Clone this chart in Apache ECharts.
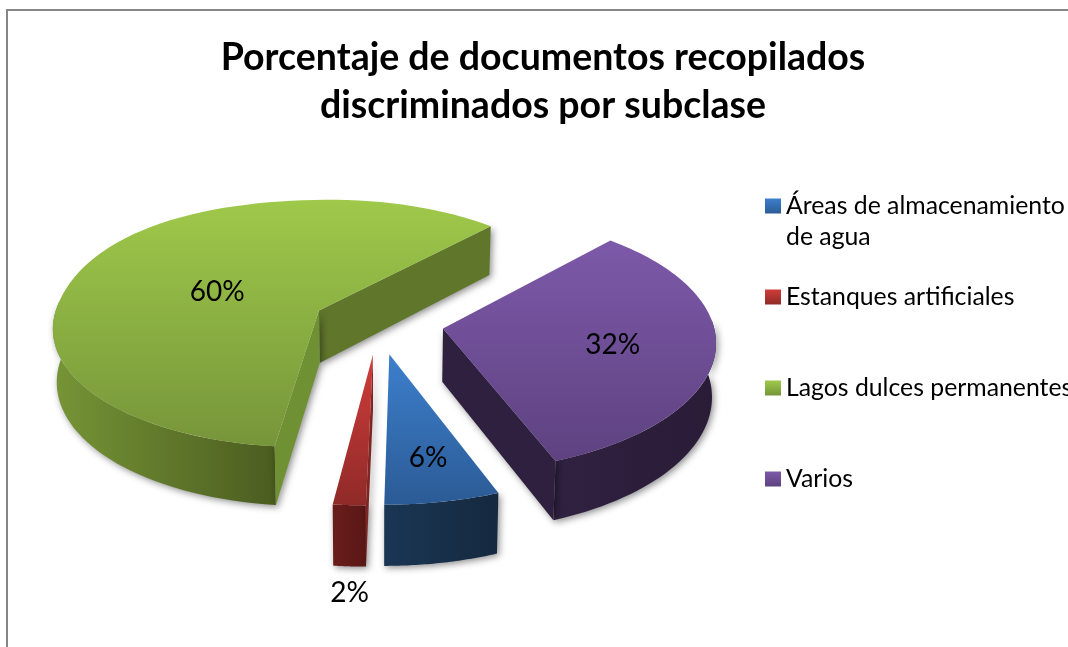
<!DOCTYPE html>
<html><head><meta charset="utf-8">
<style>html,body{margin:0;padding:0;background:#fff;overflow:hidden}#c{width:1068px;height:647px}</style>
<script src="https://cdn.jsdelivr.net/npm/echarts@6/dist/echarts.min.js"></script>
</head><body><div id="c"></div>
<script>
// Data
const titleLines = ['Porcentaje de documentos recopilados', 'discriminados por subclase'];
const categories = ['Áreas de almacenamiento de agua', 'Estanques artificiales', 'Lagos dulces permanentes', 'Varios'];
const values = [6, 1.7, 60, 32.3];

// Look
const topColors = [['#3d7fcc', '#2b5b96'], ['#cf3d3a', '#8f2a28'], ['#9fc94a', '#76953a'], ['#7d59a9', '#5e4280']];
const wallColors = [['#1a3654', '#15293f'], ['#691d1b', '#5a1716'], ['#769536', '#4b5c20'], ['#2f2140', '#2a1c37']];
const innerColors = ['#1f3c5f', '#7f2523', '#6f9134', '#2e203e'];
const backInnerColors = ['#1f3c5f', '#7f2523', '#5f762b', '#2e203e'];
const labelFractions = [0.73, 1.48, 0.41, 0.62];
const labelNudges = [[1, -1], [14, 2], [-7, 2], [2, 2]];
const sliceRadii = [270, 270, 266, 270];

// 3D pie projection constants
const startDeg = 158.4, cx = 378, cy = 323, explode = 66, tilt = 0.47, depth = 2500, vanishX = 430, wall = 53, floorShrink = 0.988, backLeftBulge = 0.03;
const font = 'Lato, Carlito, "Noto Sans", sans-serif';

function project(X, Y, Z) {
  const f = 1 / (1 - Y / depth);
  const x = cx + X * f + (cx - vanishX) * (f - 1);
  return [Z ? cx + (x - cx) * floorShrink : x, cy + Y * tilt * f + Z * f];
}
const total = values.reduce((a, b) => a + b, 0);
function sliceAngles(i) {
  let a = startDeg;
  for (let k = 0; k < i; k++) a += values[k] / total * 360;
  return [a, a + values[i] / total * 360];
}
const rad = d => d * Math.PI / 180;
const lg = (c, horizontal) => ({ type: 'linear', x: 0, y: 0, x2: horizontal ? 1 : 0, y2: horizontal ? 0 : 1,
  colorStops: [{ offset: 0, color: c[0] }, { offset: 1, color: c[1] }] });

function renderSlice(params, api) {
  const i = params.seriesIndex;
  const value = api.value(0);
  const [a0, a1] = sliceAngles(i);
  const radius = sliceRadii[i];
  const mid = rad((a0 + a1) / 2);
  const ox = Math.sin(mid) * explode, oy = -Math.cos(mid) * explode;
  const rim = deg => {
    const n = ((deg % 360) + 360) % 360;
    return n > 270 ? radius * (1 + backLeftBulge * Math.pow(Math.sin(rad(2 * n)), 2)) : radius;
  };
  const at = (deg, r) => [ox + Math.sin(rad(deg)) * r, oy - Math.cos(rad(deg)) * r];
  const top = (deg, r) => { const p = at(deg, r); return project(p[0], p[1], 0); };
  const bot = (deg, r) => { const p = at(deg, r); return project(p[0], p[1], wall); };
  const shadow = { shadowBlur: 7, shadowColor: 'rgba(0,0,0,0.45)', shadowOffsetX: 2, shadowOffsetY: 2 };
  const kids = [];
  // outer wall: only the part facing the viewer (angles normalised to one turn)
  const turn = a0 >= 360 ? 360 : 0;
  const w0 = Math.max(a0 - turn, 86), w1 = Math.min(a1 - turn, 274);
  if (w1 > w0) {
    const up = [], down = [];
    for (let d = w0; d <= w1 + 0.001; d += (w1 - w0) / 40) { up.push(top(d, rim(d))); down.unshift(bot(d, rim(d))); }
    kids.push({ type: 'polygon', shape: { points: up.concat(down) },
      style: Object.assign({ fill: lg(wallColors[i], true) }, shadow) });
  }
  // radial walls
  const radialWall = (deg, color) => ({ type: 'polygon',
    shape: { points: [top(deg, 0), top(deg, radius), bot(deg, radius), bot(deg, 0)] },
    style: Object.assign({ fill: color }, shadow) });
  if (i === 2) { kids.push(radialWall(a1, backInnerColors[i])); kids.push(radialWall(a0, innerColors[i])); }
  else if (i === 3) { kids.push(radialWall(a1, innerColors[i])); }
  else if (i === 1) { kids.push(radialWall(a0, innerColors[i])); }
  // top face
  const pts = [top(a0, 0)];
  for (let d = a0; d <= a1 + 0.001; d += (a1 - a0) / 80) pts.push(top(d, rim(d)));
  kids.push({ type: 'polygon', shape: { points: pts }, style: { fill: lg(topColors[i], false) } });
  // percentage label
  const lp = top((a0 + a1) / 2, radius * labelFractions[i]);
  kids.push({ type: 'text', x: lp[0] + labelNudges[i][0], y: lp[1] + labelNudges[i][1], style: {
    text: Math.round(value) + '%', fill: '#000', font: '28px ' + font, align: 'center', verticalAlign: 'middle' } });
  return { type: 'group', children: kids };
}

const chart = echarts.init(document.getElementById('c'), null, { renderer: 'canvas' });
chart.setOption({
  animation: false,
  backgroundColor: '#fff',
  title: { text: titleLines.join('\n'), left: 538, top: 29, textAlign: 'center',
    textStyle: { fontFamily: font, fontSize: 37.5, fontWeight: 'bold', color: '#000', lineHeight: 48 } },
  legend: { orient: 'vertical', left: 760, top: 186, icon: 'rect', itemWidth: 16, itemHeight: 15, itemGap: 61,
    selectedMode: false, data: categories,
    formatter: n => n === categories[0] ? n.replace(/ de agua$/, '') : n,
    textStyle: { fontFamily: font, fontSize: 24.8, color: '#000', lineHeight: 30 } },
  graphic: [
    { type: 'rect', silent: true, z: -1, shape: { x: 7, y: 10, width: 1300, height: 900 },
      style: { fill: 'none', stroke: '#868686', lineWidth: 2 } },
    { type: 'text', silent: true, x: 786, y: 237, style: { text: 'de agua', fill: '#000', font: '24.8px ' + font, align: 'left', verticalAlign: 'middle' } }
  ],
  series: categories.map((name, i) => ({
    type: 'custom', name, coordinateSystem: 'none', silent: true, clip: false,
    itemStyle: { color: lg(topColors[i], false) },
    renderItem: renderSlice, data: [[values[i]]]
  }))
});
</script></body></html>
